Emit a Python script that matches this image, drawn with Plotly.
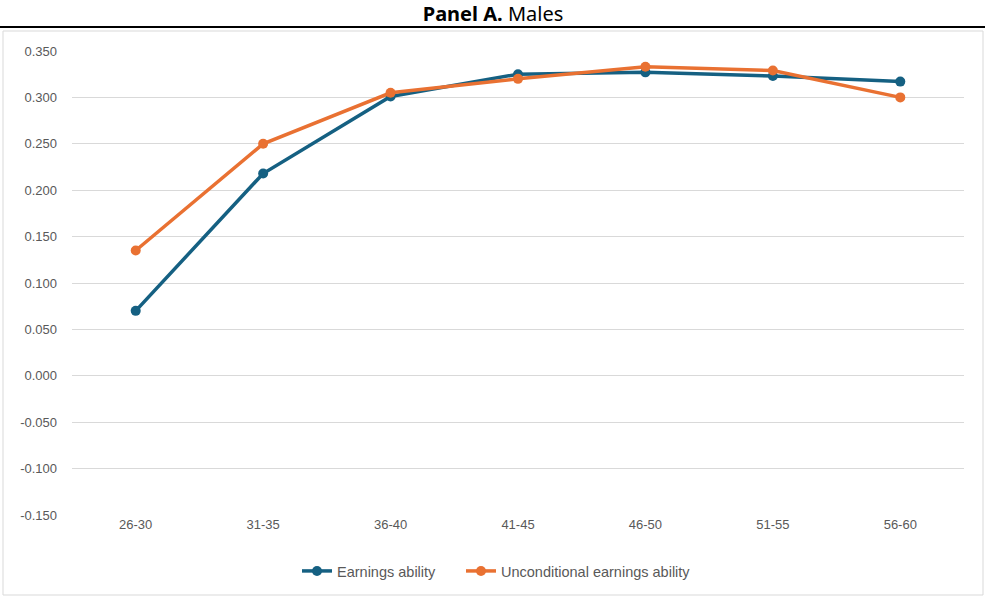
import plotly.graph_objects as go

# Age groups and the two earnings-ability series
age_groups = ["26-30", "31-35", "36-40", "41-45", "46-50", "51-55", "56-60"]
earnings_ability = [0.070, 0.218, 0.301, 0.325, 0.327, 0.323, 0.317]
unconditional_ability = [0.135, 0.250, 0.305, 0.320, 0.333, 0.329, 0.300]
y_ticks = [0.35, 0.30, 0.25, 0.20, 0.15, 0.10, 0.05, 0.0, -0.05, -0.10, -0.15]

W, H = 985, 597
ML, MR, MT, MB = 72, 21, 51, 82
PW, PH = W - ML - MR, H - MT - MB


def px_x(x):
    return (x - ML) / PW


def px_y(y):
    return (H - MB - y) / PH


fig = go.Figure()
fig.add_trace(go.Scatter(
    x=age_groups, y=earnings_ability, name="Earnings ability",
    mode="lines+markers",
    line=dict(color="#156082", width=3.5),
    marker=dict(size=10, color="#156082"),
    legend="legend",
))
fig.add_trace(go.Scatter(
    x=age_groups, y=unconditional_ability, name="Unconditional earnings ability",
    mode="lines+markers",
    line=dict(color="#E97132", width=3.5),
    marker=dict(size=10, color="#E97132"),
    legend="legend2",
))

grey = "#595959"
legend_style = dict(
    orientation="h", xanchor="left", yanchor="middle",
    y=px_y(571), font=dict(size=14.5, color=grey),
    itemwidth=30, bgcolor="rgba(0,0,0,0)",
)
fig.update_layout(
    width=W, height=H,
    margin=dict(l=ML, r=MR, t=MT, b=MB, autoexpand=False),
    paper_bgcolor="white", plot_bgcolor="white",
    font=dict(family="Liberation Sans, Arial, sans-serif", size=13, color=grey),
    title=dict(
        text="<b>Panel A.</b> Males",
        x=px_x(493), xanchor="center", xref="paper",
        y=1 - 14 / H, yanchor="middle", yref="container",
        font=dict(family="Noto Sans, sans-serif", size=20, color="#000000"),
    ),
    xaxis=dict(
        type="category", range=[-0.5, 6.5],
        showgrid=False, zeroline=False, showline=False,
        ticks="", tickfont=dict(size=13, color=grey),
    ),
    yaxis=dict(
        range=[-0.15, 0.35], tickvals=y_ticks,
        ticktext=[f"{v:.3f}" for v in y_ticks],
        showgrid=True, gridcolor="#D9D9D9", gridwidth=1,
        zeroline=False, showline=False, ticks="",
        ticklabelstandoff=14,
        tickfont=dict(size=13, color=grey),
    ),
    showlegend=True,
    legend=dict(x=px_x(297), **legend_style),
    legend2=dict(x=px_x(461), **legend_style),
    shapes=[
        # chart border
        dict(type="rect", xref="paper", yref="paper",
             x0=px_x(3), x1=px_x(983), y0=px_y(595), y1=px_y(31),
             line=dict(color="#D9D9D9", width=1), layer="below"),
        # rule under the panel title
        dict(type="line", xref="paper", yref="paper",
             x0=px_x(0), x1=px_x(985), y0=px_y(27), y1=px_y(27),
             line=dict(color="#000000", width=2)),
    ],
)

fig.write_html("out.html")
